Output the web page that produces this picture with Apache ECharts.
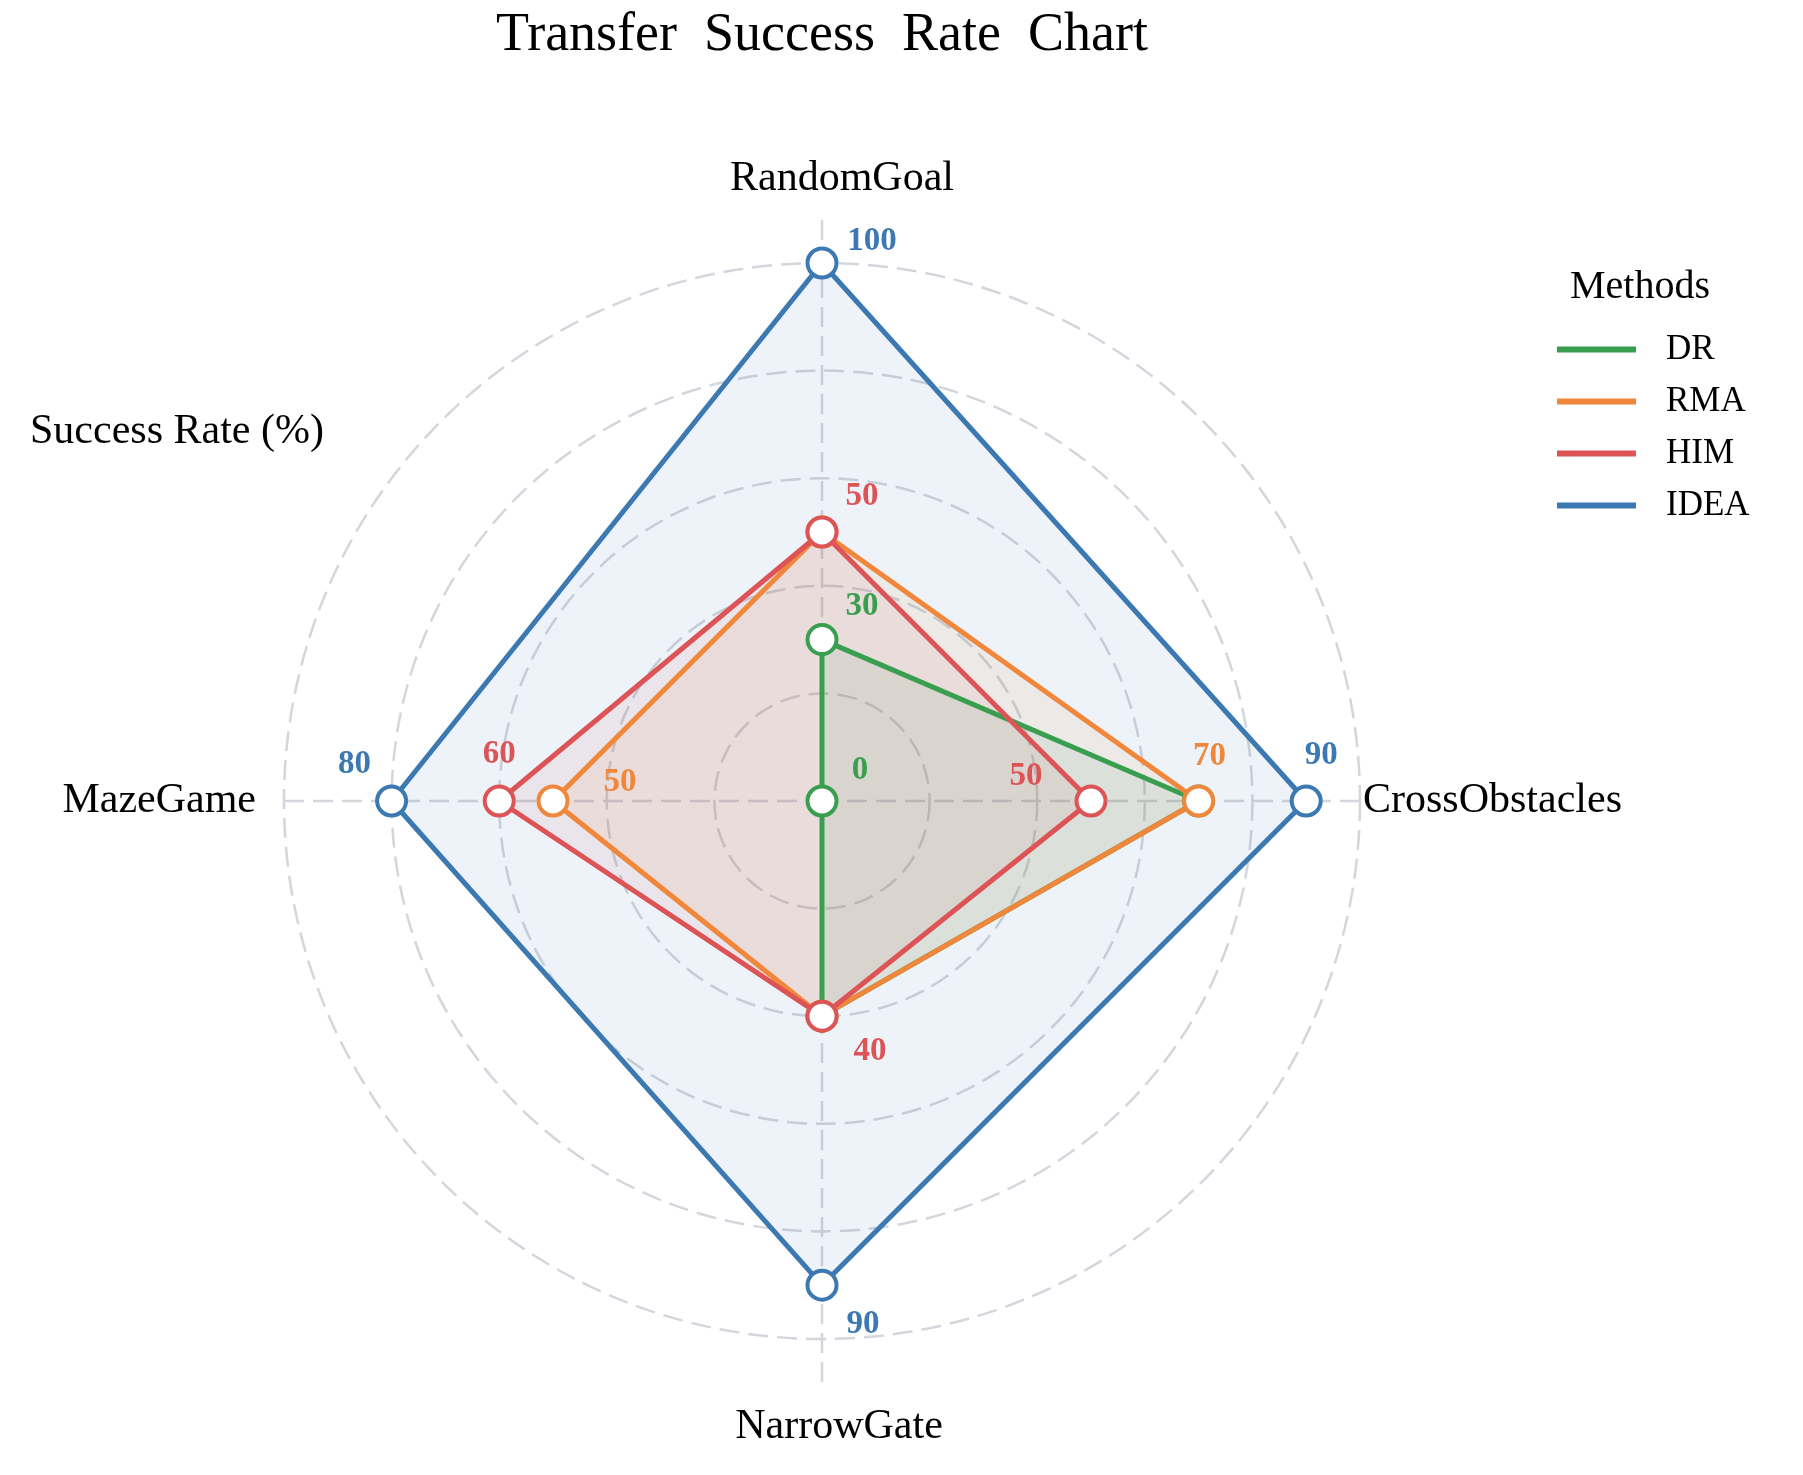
<!DOCTYPE html>
<html><head><meta charset="utf-8">
<script src="https://cdn.jsdelivr.net/npm/echarts@6/dist/echarts.min.js"></script>
<style>html,body{margin:0;padding:0;background:#fff}#c{width:1803px;height:1475px}</style>
</head><body><div id="c"></div>
<script>
// ---- data ----
const categories = ['RandomGoal', 'CrossObstacles', 'NarrowGate', 'MazeGame'];
const seriesNames = ['DR', 'RMA', 'HIM', 'IDEA'];
const drValues = [30, 70, 40, 0];
const rmaValues = [50, 70, 40, 50];
const himValues = [50, 50, 40, 60];
const ideaValues = [100, 90, 90, 80];
const radiusTicks = [0, 20, 40, 60, 80, 100];
const chartTitle = 'Transfer  Success  Rate  Chart';
const legendTitle = 'Methods';
const radiusName = 'Success Rate (%)';

// ---- styles ----
const FONT = '"Liberation Serif", "Times New Roman", serif';
const colors = { DR: '#399E4F', RMA: '#F0873A', HIM: '#DD5457', IDEA: '#3C79B2' };
const gridColor = '#D3D6DC';
const valuesByName = { DR: drValues, RMA: rmaValues, HIM: himValues, IDEA: ideaValues };
// pixel offsets of the value labels from their points (null = no label)
const labelOffsets = {
  DR:   [[40, -33], null, null, [38, -31]],
  RMA:  [null, [11, -45], null, [67, -19]],
  HIM:  [[40, -36], [-65, -25], [48, 35], [0, -47]],
  IDEA: [[50, -22], [15, -46], [41, 39], [-37, -37]]
};
const CX = 822, CY = 801, R = 538;
const step = 360 / categories.length;
const tickStep = radiusTicks[1] - radiusTicks[0];
const rMax = radiusTicks[radiusTicks.length - 1];
const gridLine = { color: gridColor, width: 2.5, type: [20, 9] };

const axisNameRich = {
  c0: { fontFamily: FONT, fontSize: 42, color: '#000', padding: [0, 0, 60, 40] },
  c1: { fontFamily: FONT, fontSize: 42, color: '#000', padding: [0, 0, 0, 0] },
  c2: { fontFamily: FONT, fontSize: 42, color: '#000', padding: [64, 0, 0, 34] },
  c3: { fontFamily: FONT, fontSize: 42, color: '#000', padding: [0, 25, 0, 0] }
};

function buildSeries(name) {
  const vals = valuesByName[name];
  const c = colors[name];
  const data = vals.map((v, i) => {
    const off = labelOffsets[name][i];
    return {
      value: [v, i * step],
      label: off ? { show: true, offset: off } : { show: false }
    };
  });
  data.push({ value: [vals[0], 360], symbol: 'none', label: { show: false } });
  return {
    type: 'line', name: name, coordinateSystem: 'polar', polarIndex: 0,
    data: data, clip: false, smooth: false,
    symbol: 'circle', symbolSize: 29, showSymbol: true, showAllSymbol: true,
    lineStyle: { color: c, width: 5 },
    itemStyle: { color: '#fff', borderColor: c, borderWidth: 4 },
    areaStyle: { color: c, opacity: 0.09 },
    label: {
      show: false, position: 'inside', color: c, fontFamily: FONT, fontWeight: 'bold', fontSize: 33,
      align: 'center', verticalAlign: 'middle',
      formatter: p => String(p.value[0])
    },
    emphasis: { disabled: true }
  };
}

const hiddenRadius = (max) => ({ type: 'value', min: 0, max: max,
  axisLine: { show: false }, axisTick: { show: false }, axisLabel: { show: false }, splitLine: { show: false } });

const chart = echarts.init(document.getElementById('c'));
chart.setOption({
  animation: false,
  backgroundColor: '#fff',
  polar: [
    { center: [CX, CY], radius: R },          // data, circles, category names
    { center: [CX, CY], radius: R * 1.08 },   // vertical spokes
    { center: [CX, CY], radius: R }           // horizontal spokes
  ],
  angleAxis: [
    { polarIndex: 0, type: 'value', min: 0, max: 360, interval: step, startAngle: 90, clockwise: true,
      axisLine: { show: false }, axisTick: { show: false }, splitLine: { show: false },
      axisLabel: { show: true, margin: 3,
        formatter: v => { const i = Math.round(v / step) % categories.length; return '{c' + i + '|' + categories[i] + '}'; },
        rich: axisNameRich } },
    { polarIndex: 1, type: 'value', min: 0, max: 360, interval: 180, startAngle: 90, clockwise: true,
      axisLine: { show: false }, axisTick: { show: false }, axisLabel: { show: false },
      splitLine: { show: true, lineStyle: gridLine } },
    { polarIndex: 2, type: 'value', min: 0, max: 360, interval: 180, startAngle: 0, clockwise: true,
      axisLine: { show: false }, axisTick: { show: false }, axisLabel: { show: false },
      splitLine: { show: true, lineStyle: gridLine } }
  ],
  radiusAxis: [
    { polarIndex: 0, type: 'value', min: radiusTicks[0], max: rMax, interval: tickStep,
      axisLine: { show: false }, axisTick: { show: false }, axisLabel: { show: false },
      splitLine: { show: true, lineStyle: gridLine } },
    Object.assign({ polarIndex: 1 }, hiddenRadius(rMax * 1.08)),
    Object.assign({ polarIndex: 2 }, hiddenRadius(rMax))
  ],
  legend: {
    orient: 'vertical', left: 1557, top: 332, padding: 0,
    itemWidth: 79, itemHeight: 6, itemGap: 17, icon: 'rect', selectedMode: false,
    data: seriesNames.map(n => ({ name: n, itemStyle: { color: colors[n], borderWidth: 0 } })),
    textStyle: { fontFamily: FONT, fontSize: 35, color: '#000', padding: [0, 0, 0, 25] }
  },
  graphic: [
    { type: 'text', x: CX, y: 36, style: { text: chartTitle, fontFamily: FONT, fontSize: 54, fill: '#000', align: 'center', verticalAlign: 'middle', textAlign: 'center', textVerticalAlign: 'middle' } },
    { type: 'text', x: 1640, y: 287, style: { text: legendTitle, fontFamily: FONT, fontSize: 40, fill: '#000', align: 'center', verticalAlign: 'middle', textAlign: 'center', textVerticalAlign: 'middle' } },
    { type: 'text', x: 30, y: 432, style: { text: radiusName, fontFamily: FONT, fontSize: 42, fill: '#000', align: 'left', verticalAlign: 'middle', textAlign: 'left', textVerticalAlign: 'middle' } }
  ],
  series: seriesNames.map(buildSeries)
});
</script></body></html>
